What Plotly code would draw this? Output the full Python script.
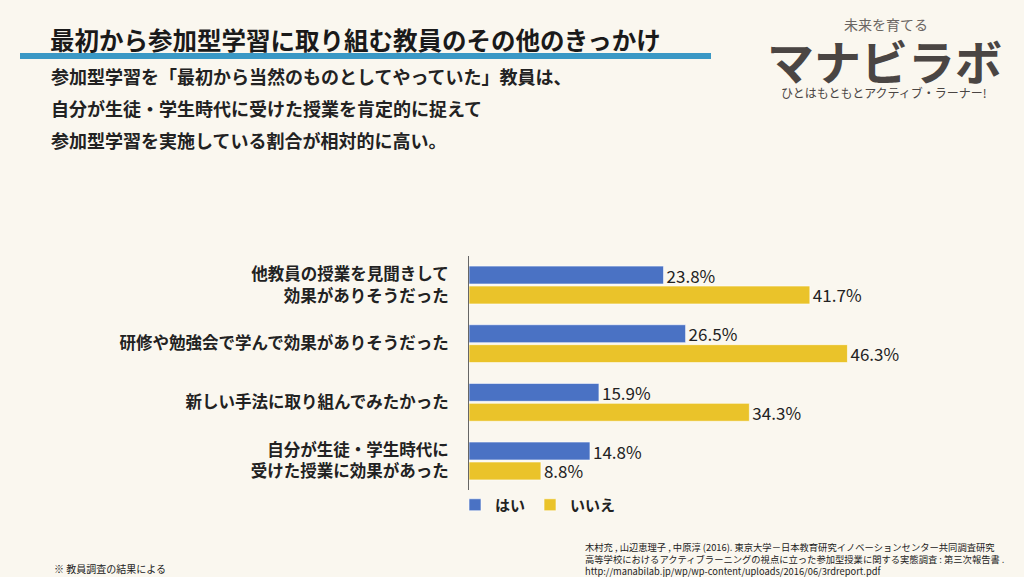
import plotly.graph_objects as go

categories = [
    "他教員の授業を見聞きして<br>効果がありそうだった",
    "研修や勉強会で学んで効果がありそうだった",
    "新しい手法に取り組んでみたかった",
    "自分が生徒・学生時代に<br>受けた授業に効果があった",
]
yes_values = [23.8, 26.5, 15.9, 14.8]
no_values = [41.7, 46.3, 34.3, 8.8]
series_names = ["はい", "いいえ"]

BG = "#faf7ef"
BLUE = "#4a72c4"
YELLOW = "#eac32a"
FONT = "Noto Sans CJK JP"
TXT = "#222222"

fig = go.Figure()
for name, vals, col in [(series_names[0], yes_values, BLUE), (series_names[1], no_values, YELLOW)]:
    fig.add_trace(go.Bar(
        y=categories, x=vals, name=name, orientation="h",
        marker=dict(color=col, line=dict(color="rgba(255,255,255,0.6)", width=1)),
        text=[f"{v:.1f}%" for v in vals], textposition="outside", constraintext="none",
        textfont=dict(family=FONT, size=17, color=TXT),
        cliponaxis=False,
    ))

W, H = 1024, 577
def px(x):
    return x / W
def py(y):
    return 1 - y / H

fig.update_layout(
    width=W, height=H,
    margin=dict(l=0, r=0, t=0, b=0),
    paper_bgcolor=BG, plot_bgcolor=BG,
    barmode="group", bargap=0.32, bargroupgap=0.1,
    font=dict(family=FONT, color=TXT),
    showlegend=True,
    legend=dict(orientation="h", x=px(538), xanchor="center", y=py(505), yanchor="middle",
                font=dict(family=FONT, size=15, color=TXT, weight="bold"), bgcolor="rgba(0,0,0,0)",
                traceorder="normal", itemwidth=30),
    xaxis=dict(domain=[px(469), 1.0], range=[0, 67.9], visible=False, showgrid=False, zeroline=False),
    yaxis=dict(domain=[py(490.3), py(255.7)], autorange="reversed", showgrid=False, zeroline=False,
               showline=True, linecolor="#666666", linewidth=1, ticks="",
               ticklabelstandoff=16,
               tickfont=dict(family=FONT, size=16.5, color=TXT, weight="bold")),
)

# Header
fig.add_annotation(x=px(48), y=py(40), xref="paper", yref="paper", xanchor="left", yanchor="middle",
                   text="<b>最初から参加型学習に取り組む教員のその他のきっかけ</b>", showarrow=False,
                   font=dict(family=FONT, size=24.5, color="#1a1a1a"))
fig.add_shape(type="line", xref="paper", yref="paper", x0=px(20), x1=px(711), y0=py(56), y1=py(56),
              line=dict(color="#3a98c5", width=6))
sub = [
    "参加型学習を「最初から当然のものとしてやっていた」教員は、",
    "自分が生徒・学生時代に受けた授業を肯定的に捉えて",
    "参加型学習を実施している割合が相対的に高い。",
]
for i, s in enumerate(sub):
    fig.add_annotation(x=px(49), y=py(76 + 32 * i), xref="paper", yref="paper", xanchor="left", yanchor="middle",
                       text=f"<b>{s}</b>", showarrow=False, font=dict(family=FONT, size=18, color=TXT))

# Logo
fig.add_annotation(x=px(886), y=py(24), xref="paper", yref="paper", xanchor="center", yanchor="middle",
                   text="未来を育てる", showarrow=False, font=dict(family=FONT, size=14, color="#6a6562"))
fig.add_annotation(x=px(884), y=py(59), xref="paper", yref="paper", xanchor="center", yanchor="middle",
                   text="<b>マナビラボ</b>", showarrow=False, font=dict(family=FONT, size=47, color="#4a4543"))
fig.add_annotation(x=px(884), y=py(93), xref="paper", yref="paper", xanchor="center", yanchor="middle",
                   text="ひとはもともとアクティブ・ラーナー!", showarrow=False,
                   font=dict(family=FONT, size=12, color="#4a4543"))

# Footer
fig.add_annotation(x=px(52), y=py(568), xref="paper", yref="paper", xanchor="left", yanchor="middle",
                   text="※ 教員調査の結果による", showarrow=False, font=dict(family=FONT, size=10, color=TXT))
cite = [
    "木村充 , 山辺恵理子 , 中原淳 (2016). 東京大学－日本教育研究イノベーションセンター共同調査研究",
    "高等学校におけるアクティブラーニングの視点に立った参加型授業に関する実態調査 : 第三次報告書 .",
    "http://manabilab.jp/wp/wp-content/uploads/2016/06/3rdreport.pdf",
]
fig.add_annotation(x=px(583), y=py(559), xref="paper", yref="paper", xanchor="left", yanchor="middle",
                   align="left", text="<br>".join(cite), showarrow=False,
                   font=dict(family=FONT, size=9.3, color=TXT))

fig.write_html("out.html", config={"displayModeBar": False},
               post_script="document.body.style.margin='0';document.body.style.background='" + BG + "';")
